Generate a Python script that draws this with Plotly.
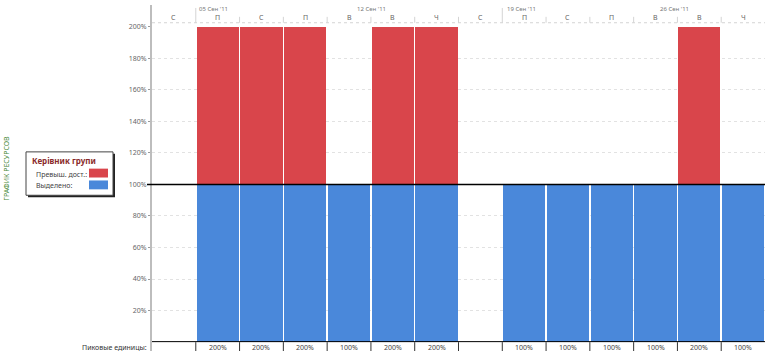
import plotly.graph_objects as go

# ---- data ----
day_labels = ["С", "П", "С", "П", "В", "В", "Ч", "С", "П", "С", "П", "В", "В", "Ч"]
allocated = [0, 100, 100, 100, 100, 100, 100, 0, 100, 100, 100, 100, 100, 100]
overallocated = [0, 100, 100, 100, 0, 100, 100, 0, 0, 0, 0, 0, 100, 0]
week_labels = ["05 Сен '11", "12 Сен '11", "19 Сен '11", "26 Сен '11"]
y_ticks = [20, 40, 60, 80, 100, 120, 140, 160, 180, 200]
legend_title = "Керівник групи"
legend_items = ["Превыш. дост.:", "Выделено:"]
side_title = "ГРАФИК РЕСУРСОВ"
row_title = "Пиковые единицы:"

W, H = 765, 351
RED = "#D9454B"
BLUE = "#4A88DA"
FONT = "Noto Sans"

x0_px, x1_px = 152, 765
y_top_px, y_bot_px = 22, 342
n = len(day_labels)
colw = (x1_px - x0_px) / n


def px(x):
    return x / W


def py(y):
    return 1 - y / H


xs = [i + 0.5 for i in range(n)]
peaks = [a + o for a, o in zip(allocated, overallocated)]

fig = go.Figure()
fig.add_trace(go.Bar(x=xs, y=allocated, marker=dict(color=BLUE, line=dict(width=0)),
                     width=0.965, showlegend=False, hoverinfo="skip"))
fig.add_trace(go.Bar(x=xs, y=overallocated, marker=dict(color=RED, line=dict(width=0)),
                     width=0.965, showlegend=False, hoverinfo="skip"))

fig.update_layout(
    barmode="stack",
    width=W, height=H,
    margin=dict(l=0, r=0, t=0, b=0),
    paper_bgcolor="white", plot_bgcolor="white",
    font=dict(family=FONT, size=7, color="#666"),
    xaxis=dict(domain=[px(x0_px), px(x1_px)], range=[0, n], showgrid=False,
               showticklabels=False, zeroline=False, fixedrange=True),
    yaxis=dict(domain=[py(y_bot_px), py(y_top_px)], range=[0, 200],
               tickvals=y_ticks, ticktext=[f"{v}%" for v in y_ticks],
               ticks="outside", ticklen=3, tickcolor="#999",
               tickfont=dict(size=7, color="#666", family=FONT),
               showgrid=True, gridcolor="#e2e2e2", griddash="dot", gridwidth=1,
               zeroline=False, showline=False),
)

shapes = []
# left axis line (full height)
shapes.append(dict(type="line", xref="paper", yref="paper", x0=px(151), x1=px(151),
                   y0=0, y1=1, line=dict(color="#bdbdbd", width=2)))
# header bottom line
shapes.append(dict(type="line", xref="paper", yref="paper", x0=px(152), x1=1,
                   y0=py(18), y1=py(18), line=dict(color="#d4d4d4", width=1, dash="dot")))
# header separators
for i in range(1, n):
    xp = x0_px + i * colw
    top = 3 if i in (1, 8) else 12
    shapes.append(dict(type="line", xref="paper", yref="paper", x0=px(xp), x1=px(xp),
                       y0=py(top), y1=py(18), line=dict(color="#d4d4d4", width=1)))
# 100% line
shapes.append(dict(type="line", xref="paper", yref="y", x0=px(147), x1=1,
                   y0=100, y1=100, line=dict(color="black", width=1.5)))
# bottom table line
shapes.append(dict(type="line", xref="paper", yref="paper", x0=px(152), x1=1,
                   y0=py(341.5), y1=py(341.5), line=dict(color="black", width=1)))
for i in range(1, n):
    xp = x0_px + i * colw
    shapes.append(dict(type="line", xref="paper", yref="paper", x0=px(xp), x1=px(xp),
                       y0=py(342), y1=0, line=dict(color="#333", width=1)))
# legend box shadow and box
shapes.append(dict(type="rect", xref="paper", yref="paper", x0=px(28), x1=px(115),
                   y0=py(195), y1=py(151), line=dict(width=0), fillcolor="#222"))
shapes.append(dict(type="rect", xref="paper", yref="paper", x0=px(26), x1=px(113),
                   y0=py(193), y1=py(149), line=dict(color="#444", width=1), fillcolor="white"))
shapes.append(dict(type="rect", xref="paper", yref="paper", x0=px(89), x1=px(108),
                   y0=py(175), y1=py(166), line=dict(width=0), fillcolor=RED))
shapes.append(dict(type="rect", xref="paper", yref="paper", x0=px(89), x1=px(108),
                   y0=py(187), y1=py(178), line=dict(width=0), fillcolor=BLUE))
fig.update_layout(shapes=shapes)

ann = []
for i, lab in enumerate(day_labels):
    ann.append(dict(x=xs[i], y=py(13), xref="x", yref="paper", text=lab, showarrow=False,
                    font=dict(size=7, color="#666", family=FONT), xanchor="center", yanchor="middle"))
week_pos = [197, 355, 505, 658]
for lab, xp in zip(week_labels, week_pos):
    ann.append(dict(x=px(xp), y=py(4), xref="paper", yref="paper", text=lab, showarrow=False,
                    font=dict(size=6, color="#777", family=FONT), xanchor="left", yanchor="middle"))
for i, p in enumerate(peaks):
    if p > 0:
        ann.append(dict(x=xs[i], y=py(347), xref="x", yref="paper", text=f"{p}%", showarrow=False,
                        font=dict(size=7, color="#444", family=FONT), xanchor="center", yanchor="middle"))
ann.append(dict(x=px(149), y=py(347), xref="paper", yref="paper", text=row_title, showarrow=False,
                font=dict(size=7, color="#333", family=FONT), xanchor="right", yanchor="middle"))
ann.append(dict(x=px(7), y=py(166), xref="paper", yref="paper", text=side_title, showarrow=False,
                textangle=-90, font=dict(size=7, color="#4a8a3a", family=FONT),
                xanchor="center", yanchor="middle"))
ann.append(dict(x=px(30), y=py(158), xref="paper", yref="paper", text=f"<b>{legend_title}</b>",
                showarrow=False, font=dict(size=8, color="#8a2a2a", family=FONT),
                xanchor="left", yanchor="middle"))
ann.append(dict(x=px(34), y=py(172), xref="paper", yref="paper", text=legend_items[0],
                showarrow=False, font=dict(size=7, color="#444", family=FONT),
                xanchor="left", yanchor="middle"))
ann.append(dict(x=px(34), y=py(183), xref="paper", yref="paper", text=legend_items[1],
                showarrow=False, font=dict(size=7, color="#444", family=FONT),
                xanchor="left", yanchor="middle"))
fig.update_layout(annotations=ann)

fig.write_html("out.html")
